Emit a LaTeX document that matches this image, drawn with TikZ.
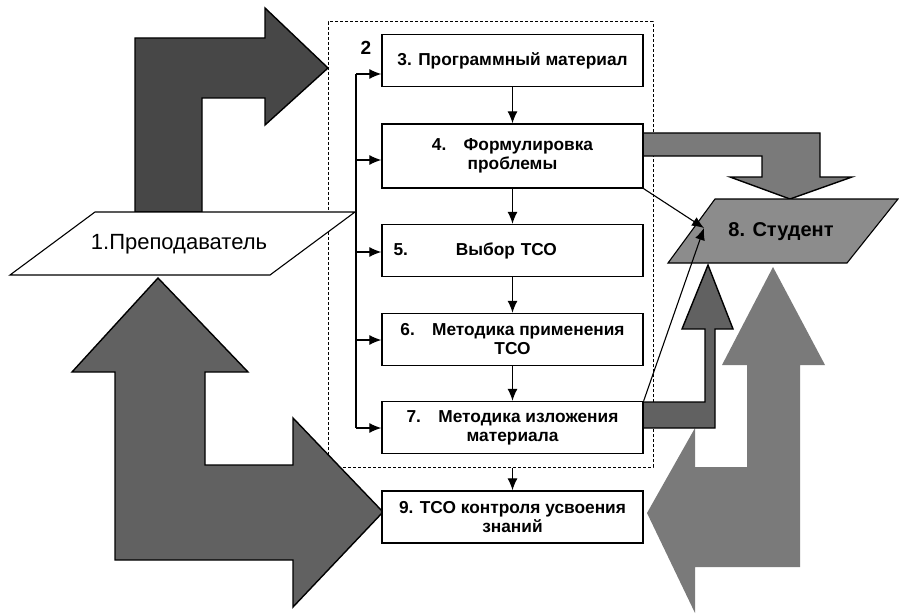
\documentclass[tikz,border=0pt]{standalone}
\usepackage{fontspec}
\setmainfont{Liberation Sans}
\usetikzlibrary{arrows,arrows.meta,positioning}

\begin{document}
\begin{tikzpicture}[x=1pt,y=-1pt,>={Latex[length=12pt,width=10pt]},
  stage/.style={draw, line width=1.4pt, fill=white, minimum width=261pt, minimum height=52pt, inner sep=1pt, align=center, font=\fontsize{17.3}{19}\selectfont\bfseries},
  flow/.style={draw=black, line width=1.4pt},
  link/.style={->, line width=1.1pt}]
  \useasboundingbox (0,0) rectangle (899,615);
  % group 2
  \node[draw, line width=1pt, dash pattern=on 3pt off 2pt, minimum width=325pt, minimum height=445pt, inner sep=0pt] (group) at (490.5,244.5) {};
  \node[font=\fontsize{19}{22}\selectfont\bfseries] (num2) at (366,48) {2};
  % big arrows
  \fill[black!52] (647,513) -- (695,428) -- (695,467) -- (747,467) -- (747,365) -- (722,365) -- (773,267) -- (825,365) -- (800,365) -- (800,567) -- (695,567) -- (695,613) -- cycle;
  \filldraw[flow, fill=black!72] (135,212) -- (135,38) -- (265,38) -- (265,8) -- (328,68) -- (265,125) -- (265,98) -- (202,98) -- (202,212) -- cycle;
  \filldraw[flow, fill=black!62] (158,278) -- (248,372) -- (205,372) -- (205,465) -- (293,465) -- (293,418) -- (383,512) -- (293,607) -- (293,560) -- (115,560) -- (115,372) -- (72,372) -- cycle;
  \filldraw[flow, fill=black!52] (642,133) -- (820,133) -- (820,177) -- (852,177) -- (790,199) -- (730,177) -- (762,177) -- (762,156) -- (642,156) -- cycle;
  \filldraw[flow, fill=black!62] (643,402) -- (705,402) -- (705,329) -- (682,329) -- (708,265) -- (733,329) -- (715,329) -- (715,428) -- (643,428) -- cycle;
  % teacher and student
  \filldraw[flow, line width=1.1pt, fill=white] (10,275) -- (270,275) -- (355,212) -- (95,212) -- cycle;
  \node[font=\fontsize{22}{25}\selectfont] (teacher) at (179,244) {1.Преподаватель};
  \filldraw[flow, line width=1.1pt, fill=black!45] (668,263) -- (847,263) -- (898,199) -- (715,199) -- cycle;
  \node[font=\fontsize{20}{23}\selectfont\bfseries] (student) at (781,232) {8. Студент};
  \coordinate (studin) at (704,228);
  % stages
  \node[stage] (box3) at (512.5,60.5) {3. Программный материал};
  \node[stage, minimum height=64pt] (box4) at (512.5,156) {4.\quad Формулировка\\проблемы};
  \node[stage, text width=238pt, align=left] (box5) at (512.5,250.5) {5.\hspace{48pt}Выбор ТСО};
  \node[stage] (box6) at (512.5,339.5) {6.\quad Методика применения\\ТСО};
  \node[stage] (box7) at (512.5,427.5) {7.\quad Методика изложения\\материала};
  \node[stage] (box9) at (512.5,517) {9. ТСО контроля усвоения\\знаний};
  % bus on the left
  \coordinate (bus3) at (356,74);
  \coordinate (bus4) at (356,160);
  \coordinate (bus5) at (356,252);
  \coordinate (bus6) at (356,340);
  \coordinate (bus7) at (356,428);
  \draw[line width=1.1pt] (bus3) -- (bus7);
  \draw[link] (bus3) -- (bus3 -| box3.west);
  \draw[link] (bus4) -- (bus4 -| box4.west);
  \draw[link] (bus5) -- (bus5 -| box5.west);
  \draw[link] (bus6) -- (bus6 -| box6.west);
  \draw[link] (bus7) -- (bus7 -| box7.west);
  % chain
  \draw[link] (box3) -- (box4);
  \draw[link] (box4) -- (box5);
  \draw[link] (box5) -- (box6);
  \draw[link] (box6) -- (box7);
  \draw[link] (box9.north |- group.south) -- (box9);
  \draw[link] (box4.south east) -- (studin);
  \draw[link] (box7.north east) -- (studin);
\end{tikzpicture}
\end{document}
